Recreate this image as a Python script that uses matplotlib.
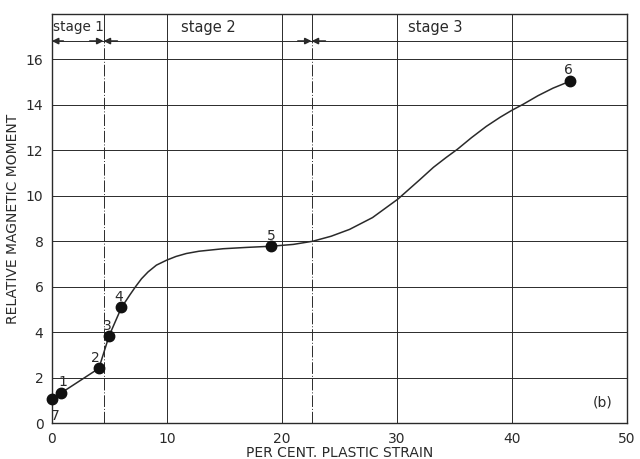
import numpy as np
import matplotlib.pyplot as plt

#%% Datos leidos de la figura
# puntos medidos (numero, deformacion %, momento relativo)
pt_labels = ['7', '1', '2', '3', '4', '5', '6']
pt_strain = [0.03, 0.84, 4.09, 4.98, 6.06, 19.1, 45.1]
pt_moment = [1.06, 1.34, 2.41, 3.84, 5.09, 7.78, 15.04]

# curva dibujada a mano
curve_strain = [0.03, 0.84, 4.09, 4.98, 6.06, 6.5, 6.8, 7.28, 7.8, 8.37, 9.1, 10.0, 10.8,
                11.7, 12.8, 14.9, 17.0, 19.1, 21.0, 22.7, 24.3, 25.9, 27.9, 30.1, 32.0,
                33.2, 34.3, 35.3, 36.5, 37.8, 39.0, 40.0, 41.0, 42.3, 43.6, 45.1]
curve_moment = [1.06, 1.34, 2.41, 3.84, 5.09, 5.42, 5.65, 6.0, 6.35, 6.65, 6.95, 7.17, 7.33,
                7.46, 7.56, 7.67, 7.73, 7.78, 7.86, 8.0, 8.22, 8.52, 9.04, 9.85, 10.7,
                11.25, 11.68, 12.05, 12.55, 13.05, 13.45, 13.75, 14.02, 14.4, 14.73, 15.04]

# limites de etapas
stage_bounds = [0, 4.5, 22.6]
stage_names = ['stage 1', 'stage 2', 'stage 3']
stage_text_x = [0.1, 11.2, 31.0]
stage_text_size = [9.8, 10.5, 10.5]

xticks = [0, 10, 20, 30, 40, 50]
yticks = [0, 2, 4, 6, 8, 10, 12, 14, 16]

#%% plot
ink = '#2a2a2a'
plt.rcParams['font.family'] = 'DejaVu Sans'

fig = plt.figure(figsize=(6.4, 4.59), dpi=100)
ax = fig.add_axes([0.081, 0.078, 0.898, 0.892])

ax.set_xlim(0, 50)
ax.set_ylim(0, 18)

# grilla
for x in xticks[1:-1]:
    ax.axvline(x, color=ink, lw=0.7)
for y in yticks[1:]:
    ax.axhline(y, color=ink, lw=0.7)
ax.axhline(16.8, color=ink, lw=0.7)

# limites de etapas (raya-punto)
for xb in stage_bounds[1:]:
    ax.plot([xb, xb], [0, 16.8], color=ink, lw=0.7, ls=(0, (12, 2, 1, 2)))
    ax.plot([xb, xb], [16.8, 18], color=ink, lw=0.7)

# flechas de cota
arr = dict(arrowstyle='-|>', color=ink, lw=1.2, mutation_scale=9, shrinkA=0, shrinkB=0)
ax.annotate('', xy=(0, 16.8), xytext=(1.0, 16.8), arrowprops=arr)
for xb in stage_bounds[1:]:
    ax.annotate('', xy=(xb, 16.8), xytext=(xb - 1.2, 16.8), arrowprops=arr)
    ax.annotate('', xy=(xb, 16.8), xytext=(xb + 1.2, 16.8), arrowprops=arr)

for name, xt, fs in zip(stage_names, stage_text_x, stage_text_size):
    ax.text(xt, 17.4, name, fontsize=fs, color=ink, va='center', ha='left')

# curva y puntos
ax.plot(curve_strain, curve_moment, color=ink, lw=1.1, zorder=3)
ax.plot(pt_strain, pt_moment, 'o', color='#111111', ms=7.5, zorder=4, clip_on=False)

offsets = {'7': (0.3, -0.75), '1': (0.1, 0.45), '2': (-0.3, 0.45), '3': (-0.15, 0.45),
           '4': (-0.25, 0.45), '5': (0.0, 0.45), '6': (-0.2, 0.5)}
for lab, x, y in zip(pt_labels, pt_strain, pt_moment):
    dx, dy = offsets[lab]
    ax.text(x + dx, y + dy, lab, fontsize=10, color=ink, ha='center', va='center')

ax.text(47.9, 0.9, '(b)', fontsize=10, color=ink, ha='center', va='center')

# ejes
ax.set_xticks(xticks)
ax.set_yticks(yticks)
ax.tick_params(length=0, labelsize=10, colors=ink, pad=6)
for s in ax.spines.values():
    s.set_color(ink)
    s.set_linewidth(1.0)

ax.set_xlabel('PER CENT. PLASTIC STRAIN', fontsize=10, color=ink, labelpad=0)
ax.set_ylabel('RELATIVE MAGNETIC MOMENT', fontsize=10, color=ink, labelpad=4)
ax.xaxis.set_label_coords(0.5, -0.055)

plt.savefig('out.png', dpi=100)
